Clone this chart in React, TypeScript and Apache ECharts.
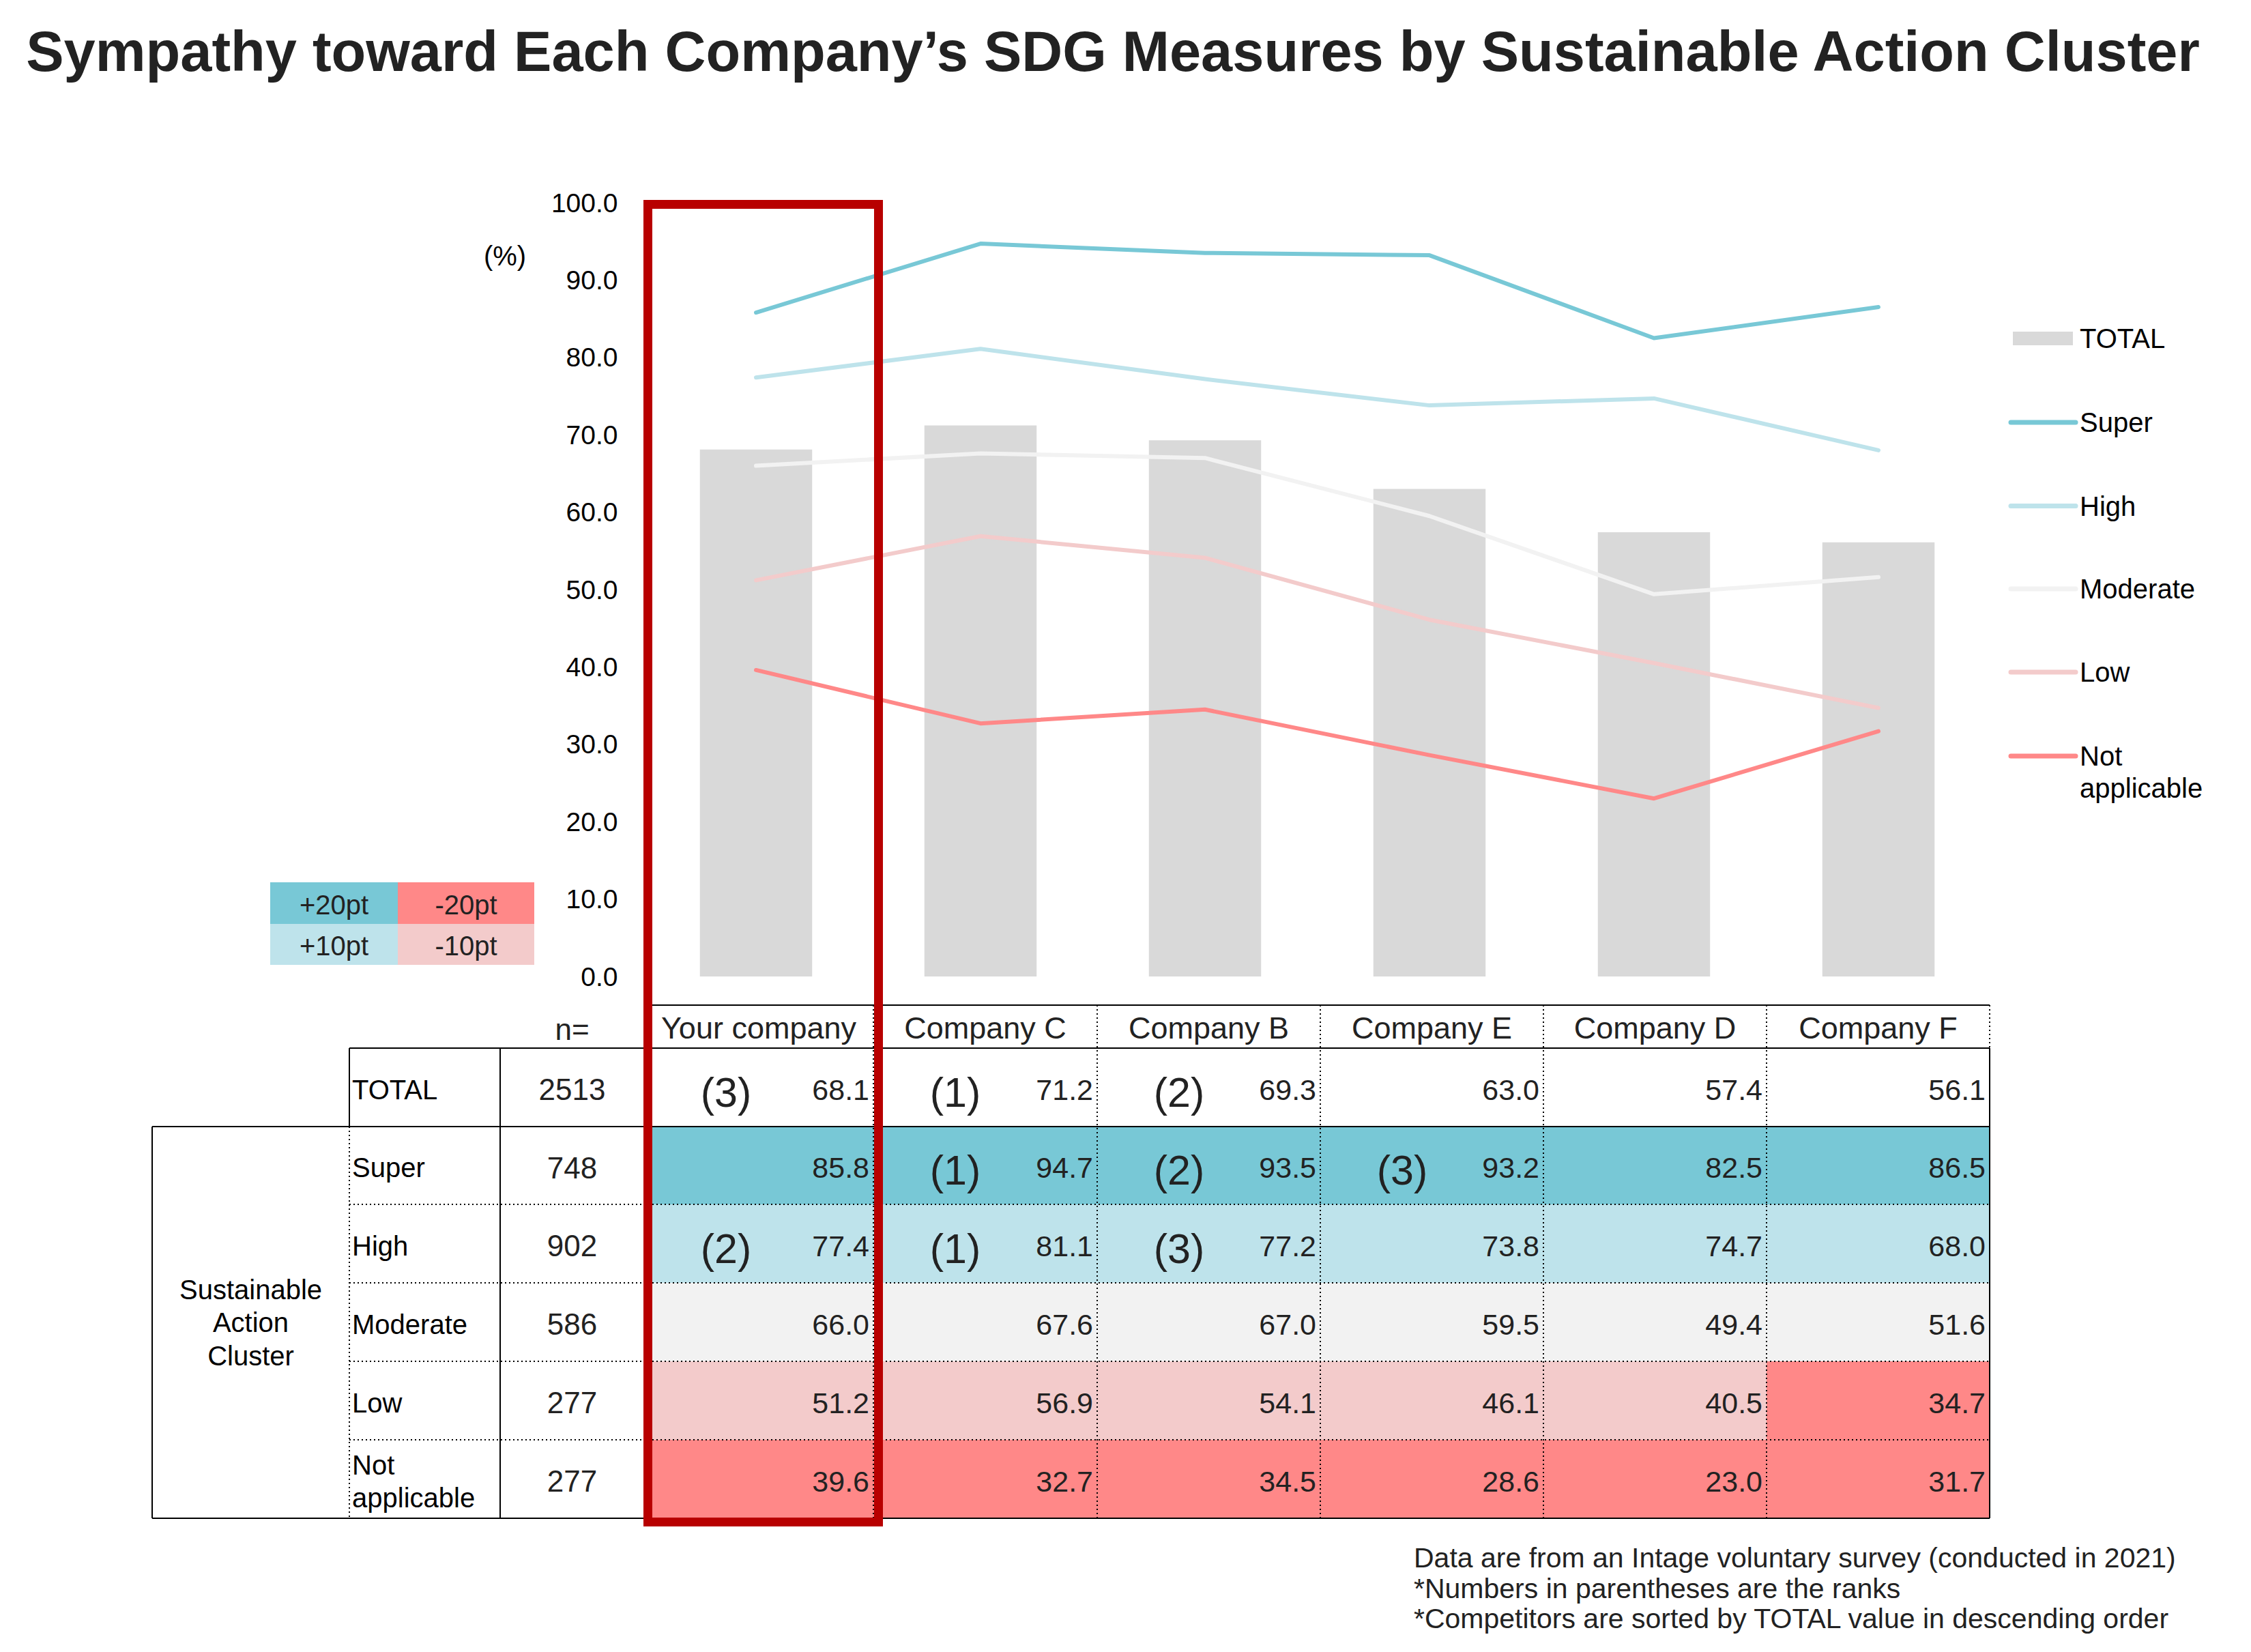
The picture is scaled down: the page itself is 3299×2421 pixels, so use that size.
import React, { useEffect, useRef } from 'react';
import * as echarts from 'echarts';

const companies = ['Your company', 'Company C', 'Company B', 'Company E', 'Company D', 'Company F'];
const totalValues = [68.1, 71.2, 69.3, 63.0, 57.4, 56.1];
const superValues = [85.8, 94.7, 93.5, 93.2, 82.5, 86.5];
const highValues = [77.4, 81.1, 77.2, 73.8, 74.7, 68.0];
const moderateValues = [66.0, 67.6, 67.0, 59.5, 49.4, 51.6];
const lowValues = [51.2, 56.9, 54.1, 46.1, 40.5, 34.7];
const notApplicableValues = [39.6, 32.7, 34.5, 28.6, 23.0, 31.7];

const seriesNames = ['TOTAL', 'Super', 'High', 'Moderate', 'Low', 'Not applicable'];
const rowLabels = ['TOTAL', 'Super', 'High', 'Moderate', 'Low', 'Not\napplicable'];
const nValues = [2513, 748, 902, 586, 277, 277];

const totalRanks = [3, 1, 2, 0, 0, 0];
const superRanks = [0, 1, 2, 3, 0, 0];
const highRanks = [2, 1, 3, 0, 0, 0];
const moderateRanks = [0, 0, 0, 0, 0, 0];
const lowRanks = [0, 0, 0, 0, 0, 0];
const notApplicableRanks = [0, 0, 0, 0, 0, 0];

const totalLevels = ['none', 'none', 'none', 'none', 'none', 'none'];
const superLevels = ['p20', 'p20', 'p20', 'p20', 'p20', 'p20'];
const highLevels = ['p10', 'p10', 'p10', 'p10', 'p10', 'p10'];
const moderateLevels = ['neu', 'neu', 'neu', 'neu', 'neu', 'neu'];
const lowLevels = ['m10', 'm10', 'm10', 'm10', 'm10', 'm20'];
const notApplicableLevels = ['m20', 'm20', 'm20', 'm20', 'm20', 'm20'];

const chipLabels = ['+20pt', '-20pt', '+10pt', '-10pt'];
const chipLevels = ['p20', 'm20', 'p10', 'm10'];

const notes = [
  'Data are from an Intage voluntary survey (conducted in 2021)',
  '*Numbers in parentheses are the ranks',
  '*Competitors are sorted by TOTAL value in descending order',
];

const TITLE = 'Sympathy toward Each Company\u2019s SDG Measures by Sustainable Action Cluster';

const LEVEL_COLORS: Record<string, string> = {
  none: '#FFFFFF',
  p20: '#78C8D6',
  p10: '#BEE3EB',
  neu: '#F2F2F2',
  m10: '#F3CBCB',
  m20: '#FF8888',
};
const LINE_COLORS = ['#78C8D6', '#BEE3EB', '#F2F2F2', '#F3CBCB', '#FF8888'];
const BAR_COLOR = '#D9D9D9';
const FONT = '"Liberation Sans", Arial, Helvetica, sans-serif';

export default function App() {
  const ref = useRef<HTMLDivElement>(null);
  useEffect(() => {
    document.body.style.margin = '0';
    if (!ref.current) return;
    const chart = echarts.init(ref.current, undefined, { renderer: 'svg' });

    const lineSeriesValues = [superValues, highValues, moderateValues, lowValues, notApplicableValues];
    const tableRows = [totalValues, superValues, highValues, moderateValues, lowValues, notApplicableValues];
    const tableRanks = [totalRanks, superRanks, highRanks, moderateRanks, lowRanks, notApplicableRanks];
    const tableLevels = [totalLevels, superLevels, highLevels, moderateLevels, lowLevels, notApplicableLevels];

    const colEdges = [944, 1280, 1608, 1935, 2262, 2589, 2916];
    const rowEdges = [1473, 1536, 1651, 1765, 1880, 1995, 2110, 2225];
    const outerLeft = 223;
    const labelLeft = 512;
    const nLeft = 733;
    const nCenter = (nLeft + colEdges[0]) / 2;

    const g: any[] = [];
    const txt = (text: string, x: number, y: number, size: number, o: any = {}) =>
      g.push({
        type: 'text',
        x,
        y,
        z: 50,
        style: {
          text,
          fontSize: size,
          fontFamily: FONT,
          fontWeight: o.weight || 'normal',
          fill: o.fill || '#222222',
          align: o.align || 'left',
          verticalAlign: 'middle',
          lineHeight: o.lh || Math.round(size * 1.2),
        },
      });
    const ln = (x1: number, y1: number, x2: number, y2: number, dotted = false, w = 2) =>
      g.push({
        type: 'line',
        z: 40,
        shape: { x1, y1, x2, y2 },
        style: dotted
          ? { stroke: '#000000', lineWidth: w, lineDash: [2, 4] }
          : { stroke: '#000000', lineWidth: w },
      });
    const rect = (x: number, y: number, w: number, h: number, fill: string, z = 10) =>
      g.push({ type: 'rect', z, shape: { x, y, width: w, height: h }, style: { fill } });

    // title
    txt(TITLE, 1631, 75, 83, { weight: 'bold', align: 'center', fill: '#222222' });
    // unit
    txt('(%)', 740, 375, 40, { align: 'center', fill: '#000000' });

    // cell backgrounds
    tableRows.forEach((row, r) => {
      row.forEach((_, c) => {
        const lv = tableLevels[r][c];
        if (lv !== 'none') {
          rect(colEdges[c], rowEdges[r + 1], colEdges[c + 1] - colEdges[c], rowEdges[r + 2] - rowEdges[r + 1], LEVEL_COLORS[lv]);
        }
      });
    });

    // table lines
    const right = colEdges[colEdges.length - 1];
    ln(colEdges[0], rowEdges[0], right, rowEdges[0]);
    ln(labelLeft, rowEdges[1], right, rowEdges[1]);
    ln(outerLeft, rowEdges[2], right, rowEdges[2]);
    ln(outerLeft, rowEdges[7], right, rowEdges[7]);
    for (let i = 3; i <= 6; i++) ln(labelLeft, rowEdges[i], right, rowEdges[i], true);
    ln(outerLeft, rowEdges[2], outerLeft, rowEdges[7]);
    ln(labelLeft, rowEdges[1], labelLeft, rowEdges[2]);
    ln(labelLeft, rowEdges[2], labelLeft, rowEdges[7], true);
    ln(nLeft, rowEdges[1], nLeft, rowEdges[7]);
    ln(colEdges[0], rowEdges[0], colEdges[0], rowEdges[7]);
    for (let i = 1; i < colEdges.length - 1; i++) ln(colEdges[i], rowEdges[0], colEdges[i], rowEdges[7], true);
    ln(right, rowEdges[0], right, rowEdges[1], true);
    ln(right, rowEdges[1], right, rowEdges[7]);

    // header texts
    txt('n=', nCenter, 1508, 44, { align: 'center' });
    companies.forEach((name, c) => txt(name, (colEdges[c] + colEdges[c + 1]) / 2, 1506, 45, { align: 'center' }));

    // rows
    tableRows.forEach((row, r) => {
      const cy = (rowEdges[r + 1] + rowEdges[r + 2]) / 2;
      txt(rowLabels[r], labelLeft + 4, cy + 3, 40, { fill: '#000000', lh: 48 });
      txt(String(nValues[r]), nCenter, cy + 3, 44, { align: 'center' });
      row.forEach((v, c) => {
        txt(v.toFixed(1), colEdges[c + 1] - 6, cy + 3, 43, { align: 'right' });
        const rk = tableRanks[r][c];
        if (rk) txt('(' + rk + ')', colEdges[c] + 120, cy + 7, 61, { align: 'center' });
      });
    });
    txt('Sustainable\nAction\nCluster', (outerLeft + labelLeft) / 2, (rowEdges[2] + rowEdges[7]) / 2, 40, {
      align: 'center',
      fill: '#000000',
      lh: 48.5,
    });

    // red highlight box
    g.push({
      type: 'rect',
      z: 100,
      shape: { x: 949.5, y: 299.5, width: 338, height: 1931 },
      style: { fill: 'none', stroke: '#B80000', lineWidth: 13 },
    });

    // legend (custom)
    const legX = 2947;
    const legYs = [496, 619, 741.5, 863, 985, 1108];
    rect(legX + 3, legYs[0] - 10, 88, 20, BAR_COLOR, 20);
    txt(seriesNames[0], 3048, legYs[0], 40, { fill: '#000000' });
    for (let i = 1; i < seriesNames.length; i++) {
      g.push({
        type: 'line',
        z: 20,
        shape: { x1: legX, y1: legYs[i], x2: legX + 95, y2: legYs[i] },
        style: { stroke: LINE_COLORS[i - 1], lineWidth: 7, lineCap: 'round' },
      });
      if (i === seriesNames.length - 1) {
        txt('Not\napplicable', 3048, legYs[i] + 23.5, 40, { fill: '#000000', lh: 47 });
      } else {
        txt(seriesNames[i], 3048, legYs[i], 40, { fill: '#000000' });
      }
    }

    // chips
    const chipX = [396, 583, 783];
    const chipY = [1293, 1354, 1414];
    chipLabels.forEach((lab, i) => {
      const cx = i % 2;
      const cyi = Math.floor(i / 2);
      rect(chipX[cx], chipY[cyi], chipX[cx + 1] - chipX[cx], chipY[cyi + 1] - chipY[cyi], LEVEL_COLORS[chipLevels[i]], 20);
      txt(lab, (chipX[cx] + chipX[cx + 1]) / 2, (chipY[cyi] + chipY[cyi + 1]) / 2 + 2, 40, { align: 'center' });
    });

    // notes
    txt(notes.join('\n'), 2072, 2327.5, 41, { lh: 44.5 });

    const lineSeries = lineSeriesValues.map((vals, i) => ({
      name: seriesNames[i + 1],
      type: 'line',
      data: vals,
      symbol: 'none',
      z: 3,
      lineStyle: { width: 6, color: LINE_COLORS[i], cap: 'round', join: 'round' },
      itemStyle: { color: LINE_COLORS[i] },
    }));

    chart.setOption({
      animation: false,
      textStyle: { fontFamily: FONT },
      grid: { left: 943.5, right: 3299 - 2917.5, top: 297, bottom: 2421 - 1431, containLabel: false },
      xAxis: {
        type: 'category',
        data: companies,
        axisLine: { show: false },
        axisTick: { show: false },
        axisLabel: { show: false },
      },
      yAxis: {
        type: 'value',
        min: 0,
        max: 100,
        interval: 10,
        splitLine: { show: false },
        axisLine: { show: false },
        axisTick: { show: false },
        axisLabel: {
          fontSize: 39,
          color: '#000000',
          margin: 38,
          fontFamily: FONT,
          formatter: (v: number) => v.toFixed(1),
        },
      },
      series: [
        {
          name: seriesNames[0],
          type: 'bar',
          data: totalValues,
          barWidth: '50%',
          itemStyle: { color: BAR_COLOR },
          z: 2,
        },
        ...lineSeries,
      ],
      graphic: { elements: g },
    });

    return () => chart.dispose();
  }, []);
  return <div ref={ref} style={{ width: 3299, height: 2421, background: '#ffffff' }} />;
}
